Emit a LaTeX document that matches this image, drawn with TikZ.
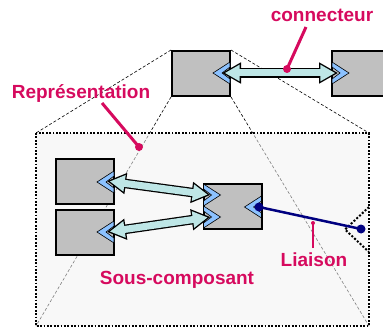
\documentclass[tikz,border=0pt]{standalone}
\usepackage{fontspec}
\setmainfont{Liberation Sans}
\usepackage{tikz}
\usetikzlibrary{arrows.meta}
\definecolor{labelColor}{RGB}{214,10,94}
\definecolor{boxColor}{RGB}{192,192,192}
\definecolor{portColor}{RGB}{140,194,255}
\definecolor{linkColor}{RGB}{190,230,230}
\definecolor{bindColor}{RGB}{0,0,128}
\definecolor{panelColor}{RGB}{248,248,248}

\tikzset{
  portLeft/.pic={\filldraw[fill=portColor, draw=black, line width=0.6pt] (-17,0) -- (0,-11) -- (0,-6) -- (-8,0) -- (0,6) -- (0,11) -- cycle;},
  portRight/.pic={\filldraw[fill=portColor, draw=black, line width=0.6pt] (17,0) -- (0,-11) -- (0,-6) -- (8,0) -- (0,6) -- (0,11) -- cycle;}
}

\begin{document}
\begin{tikzpicture}[x=1pt,y=-1pt]

          \tikzstyle{normalBox} = [draw, line width=2pt, fill=boxColor, minimum width=58pt, minimum height=45pt, inner sep=0pt];
          \tikzstyle{guideEdge} = [dash pattern=on 3pt off 2pt, line width=0.6pt];
          \tikzstyle{linkOuter} = [line width=9.5pt, black, {Triangle[length=19pt,width=20pt]}-{Triangle[length=19pt,width=20pt]}];
          \tikzstyle{linkInner} = [line width=7pt, linkColor, shorten <=2.8pt, shorten >=2.8pt, {Triangle[length=14.9pt,width=15.7pt]}-{Triangle[length=14.9pt,width=15.7pt]}];
          \tikzstyle{bindEdge} = [line width=2.5pt, bindColor];
          \tikzstyle{labelText} = [text=labelColor, font=\fontsize{19}{19}\selectfont\bfseries, anchor=base, inner sep=0pt];
          \tikzstyle{pointer} = [line width=3pt, labelColor];

          \useasboundingbox (0,0) rectangle (383,329);

          % composant vu de haut
          \node[normalBox] (top) at (201,73.5) {};
          \node[normalBox] (topRight) at (361,73.5) {};

          \coordinate (panelNW) at (36,133);
          \coordinate (panelNE) at (369,133);
          \coordinate (panelSW) at (36,326);
          \coordinate (panelSE) at (369,326);

          \draw[guideEdge] (top.north west) -- (panelNW);
          \draw[guideEdge] (top.north east) -- (panelNE);
          \draw[guideEdge] (top.south west) -- (panelSW);
          \draw[guideEdge] (top.south east) -- (panelSE);

          \fill[panelColor] (panelNW) rectangle (panelSE);
          \begin{scope}
            \clip (panelNW) rectangle (panelSE);
            \draw[guideEdge, gray] (top.south west) -- (panelSW);
            \draw[guideEdge, gray] (top.south east) -- (panelSE);
          \end{scope}
          \draw[line width=1.8pt, dash pattern=on 1.8pt off 1.6pt] (panelNW) rectangle (panelSE);

          % sous-composants
          \node[normalBox] (subA) at (85,181.5) {};
          \node[normalBox] (subB) at (85,232.5) {};
          \node[normalBox] (subC) at (232.5,206.5) {};

          \pic at (230,73) {portLeft};
          \pic at (332,73) {portRight};
          \pic at (114,182) {portLeft};
          \pic at (114,232) {portLeft};
          \pic at (203.5,195) {portRight};
          \pic at (203.5,217) {portRight};
          \pic at (261.5,207) {portLeft};

          \coordinate (portTop) at (222,73);
          \coordinate (portTopRight) at (338,73);
          \coordinate (portA) at (107,181);
          \coordinate (portB) at (107,232);
          \coordinate (portC1) at (210.5,195);
          \coordinate (portC2) at (210.5,217);

          \draw[linkOuter] (portTop) -- (portTopRight);
          \draw[linkInner] (portTop) -- (portTopRight);
          \draw[linkOuter] (portA) -- (portC1);
          \draw[linkInner] (portA) -- (portC1);
          \draw[linkOuter] (portB) -- (portC2);
          \draw[linkInner] (portB) -- (portC2);

          % liaison
          \draw[line width=2pt, dash pattern=on 2pt off 1.8pt] (369,207) -- (345,229.5) -- (369,252);
          \coordinate (bindStart) at (259,207);
          \coordinate (bindEnd) at (361,229);
          \draw[bindEdge] (bindStart) -- (bindEnd);
          \fill[bindColor] (bindStart) circle (4.5);
          \fill[bindColor] (bindEnd) circle (4.5);

          % etiquettes
          \node[labelText] (connLabel) at (322,22) {connecteur};
          \node[labelText] (reprLabel) at (81,99) {Représentation};
          \node[labelText] (subLabel) at (177,284) {Sous-composant};
          \node[labelText] (bindLabel) at (314,266) {Liaison};

          \coordinate (connTail) at (306,27);
          \coordinate (connDot) at (287,69);
          \coordinate (reprTail) at (102,103);
          \coordinate (reprDot) at (139,147);
          \coordinate (bindTail) at (313,248);
          \coordinate (bindDot) at (313,223);

          \draw[pointer] (connTail) -- (connDot);
          \fill[labelColor] (connDot) circle (4);
          \draw[pointer] (reprTail) -- (reprDot);
          \fill[labelColor] (reprDot) circle (4);
          \draw[pointer, line width=1.8pt] (bindTail) -- (bindDot);
          \fill[labelColor] (bindDot) circle (2);
        \end{tikzpicture}
\end{document}
